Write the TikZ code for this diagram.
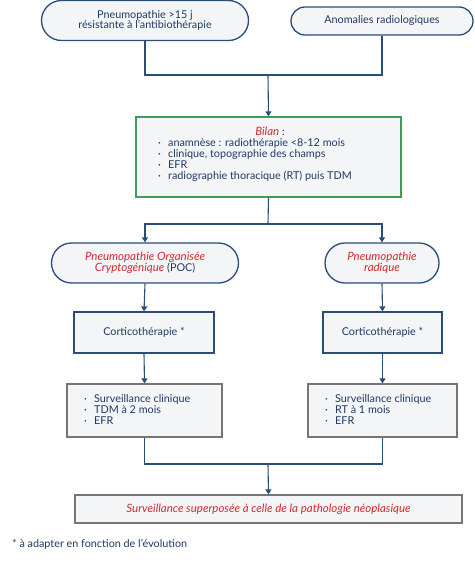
\documentclass[tikz,border=0pt]{standalone}
\usepackage{fontspec}
\setmainfont{Lato}
\usetikzlibrary{arrows.meta,shapes.misc}
\definecolor{navy}{HTML}{2A4D78}
\definecolor{txt}{HTML}{1F3A63}
\definecolor{redt}{HTML}{D42A2E}
\definecolor{greenb}{HTML}{3E9E58}
\definecolor{grayb}{HTML}{757575}
\definecolor{fillc}{HTML}{F4F5F7}
\newcommand{\fs}{\fontsize{10.8}{10.4}\selectfont}
\newcommand{\redit}[1]{{\fontsize{11.5}{10.4}\selectfont\itshape\color{redt}#1}}
\tikzset{
  every node/.style={font=\fs, text=txt},
  stad/.style={rounded rectangle, draw=navy, line width=1.3pt, fill=fillc, align=center, inner sep=0pt},
  bluebox/.style={rectangle, draw=navy, line width=1.3pt, fill=fillc, align=center, inner sep=0pt},
  graybox/.style={rectangle, draw=grayb, line width=1.3pt, fill=fillc, inner sep=0pt},
  greenbox/.style={rectangle, draw=greenb, line width=1.3pt, fill=fillc, inner sep=0pt},
  listtext/.style={anchor=base west, inner sep=0pt},
  conn/.style={draw=navy, line width=1.1pt},
  arr/.style={conn, -{Triangle[length=5pt,width=6pt]}},
}
\newcommand{\bul}{\makebox[10pt][l]{\textperiodcentered}}
\newenvironment{lst}{\begin{tabular}[t]{@{}l@{}}}{\end{tabular}}
\begin{document}
\begin{tikzpicture}[x=1pt,y=-1pt]
\useasboundingbox (0,0) rectangle (474,562);
% top stadia
\node[stad, minimum width=207pt, minimum height=40pt] (a) at (145,20.5) {Pneumopathie >15 j\\résistante à l'antibiothérapie};
\node[stad, minimum width=182pt, minimum height=28pt] (b) at (382,21) {Anomalies radiologiques};
% bilan
\node[greenbox, minimum width=265pt, minimum height=80pt] (bilan) at (268.5,157) {};
\node[anchor=base] (bt) at (270,135.5) {\redit{Bilan} :};
\node[listtext] (bl) at (158,146.5) {\begin{lst}\bul anamnèse : radiothérapie <8-12 mois\\\bul clinique, topographie des champs\\\bul EFR\\\bul radiographie thoracique (RT) puis TDM\end{lst}};
% junction coords
\coordinate (j1) at (268,75);
\coordinate (j2) at (268,224);
\coordinate (j3) at (268,464);
\draw[conn] (a.south) |- (j1);
\draw[conn] (b.south) |- (j1);
\draw[arr] (j1) -- (bilan.north);
\draw[conn] (bilan.south) -- (j2);
% level 2 stadia
\node[stad, minimum width=187pt, minimum height=40pt] (poc) at (145,263) {\redit{Pneumopathie Organisée}\\\redit{Cryptogénique} (POC)};
\node[stad, minimum width=114pt, minimum height=40pt] (rad) at (382,263) {\redit{Pneumopathie}\\\redit{radique}};
\draw[arr] (j2) -| (poc.north);
\draw[arr] (j2) -| (rad.north);
% cortico
\node[bluebox, minimum width=140pt, minimum height=41pt] (c1) at (144,332.5) {Corticothérapie *};
\node[bluebox, minimum width=119pt, minimum height=41pt] (c2) at (382.5,332.5) {Corticothérapie *};
\draw[arr] (poc.south) -- (c1.north);
\draw[arr] (rad.south) -- (c2.north);
% surveillance
\node[graybox, minimum width=155pt, minimum height=53pt] (s1) at (144.5,410.5) {};
\node[listtext] (s1t) at (84,402.5) {\begin{lst}\bul Surveillance clinique\\\bul TDM à 2 mois\\\bul EFR\end{lst}};
\node[graybox, minimum width=149pt, minimum height=53pt] (s2) at (382.5,410.5) {};
\node[listtext] (s2t) at (325,402.5) {\begin{lst}\bul Surveillance clinique\\\bul RT à 1 mois\\\bul EFR\end{lst}};
\draw[arr] (c1.south) -- (s1.north);
\draw[arr] (c2.south) -- (s2.north);
% final
\node[graybox, minimum width=387pt, minimum height=28pt] (fin) at (268.5,509) {};
\node (fint) at (268.5,509) {\redit{Surveillance superposée à celle de la pathologie néoplasique}};
\draw[conn] (s1.south) |- (j3);
\draw[conn] (s2.south) |- (j3);
\draw[arr] (j3) -- (fin.north);
% footnote
\node[anchor=base west, inner sep=0pt] (foot) at (12,547) {* à adapter en fonction de l'évolution};
\end{tikzpicture}
\end{document}
